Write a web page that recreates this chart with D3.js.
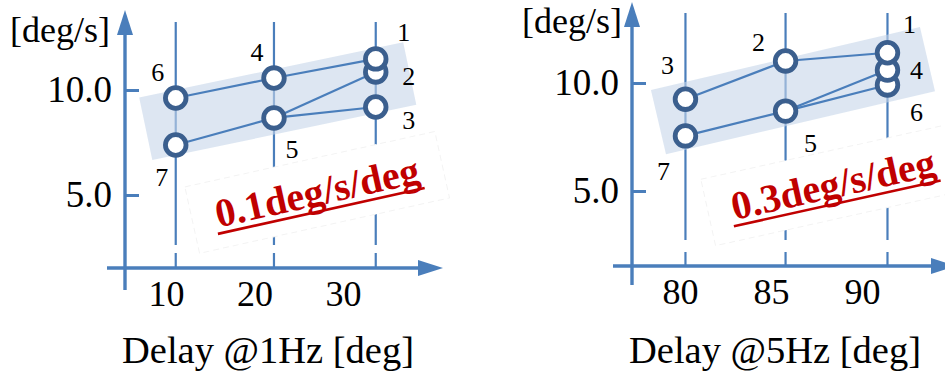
<!DOCTYPE html>
<meta charset="utf-8">
<html lang="en">
<head>
<script src="https://d3js.org/d3.v7.min.js"></script>
<style>
  body { margin: 0; background: #fff; }
  svg { display: block; }
  svg text { font-family: "Liberation Serif", "Times New Roman", serif; }
</style>
</head>
<body>
<svg></svg>
<script>
// point ids 1..7 in each panel
const ids = [1, 2, 3, 4, 5, 6, 7];

// left panel: delay at 1Hz vs rate
const delay1Hz = [33.7, 33.7, 33.7, 22.2, 22.2, 11.1, 11.1];
const rate1Hz = [11.48, 10.86, 9.19, 10.57, 8.67, 9.62, 7.38];
const links1Hz = [[6, 4, 1], [7, 5, 3], [5, 2]];
const xTicks1Hz = [10, 20, 30];
const slope1Hz = "0.1deg/s/deg";

// right panel: delay at 5Hz vs rate
const delay5Hz = [91.4, 85.8, 80.3, 91.4, 85.8, 91.4, 80.3];
const rate5Hz = [11.40, 11.02, 9.25, 10.60, 8.70, 9.91, 7.55];
const links5Hz = [[3, 2, 1], [7, 5, 6], [5, 4]];
const xTicks5Hz = [80, 85, 90];
const slope5Hz = "0.3deg/s/deg";

const yTicks = [5, 10];
const yUnit = "[deg/s]";

let width = 945, height = 376;
let svg = d3.select("svg").attr("width", width).attr("height", height);
const serif = "Liberation Serif";

const axisBlue = "#4a7ebb", ringBlue = "#3b5f8e", red = "#c00000";

// layout for each panel (pixels)
const panels = [
  {
    delay: delay1Hz, rate: rate1Hz, links: links1Hz, xTicks: xTicks1Hz, note: slope1Hz,
    title: "Delay @1Hz [deg]",
    xDomain: [10, 30], xRange: [166, 343], yRange: [195, 90],
    axisX: 125, axisY: 268, yTop: 10, yBottom: 290, xLeft: 107, xRight: 443,
    gridTop: 22, gridBottom: 245, tickTop: 253,
    unitPos: [110, 42], titleX: 268,
    labelOff: [[28, -26], [33, 5], [33, 13], [-17, -26], [18, 32], [-18, -25], [-14, 32]],
    band: { padL: 30, padR: 34, thick: 64, shift: 2 },
    noteAt: [27.4, 4.52]
  },
  {
    delay: delay5Hz, rate: rate5Hz, links: links5Hz, xTicks: xTicks5Hz, note: slope5Hz,
    title: "Delay @5Hz [deg]",
    xDomain: [80, 90], xRange: [680, 862], yRange: [191, 83],
    axisX: 632, axisY: 266, yTop: 2, yBottom: 285, xLeft: 613, xRight: 956,
    gridTop: 13, gridBottom: 240, tickTop: 252,
    unitPos: [622, 33], titleX: 775,
    labelOff: [[22, -28], [-27, -18], [-18, -34], [29, 0], [25, 32], [29, 28], [-22, 36]],
    band: { padL: 27, padR: 40, thick: 66, shift: 1 },
    noteAt: [88.57, 4.70]
  }
];

panels.forEach(p => {
  let x = d3.scaleLinear().domain(p.xDomain).range(p.xRange);
  let y = d3.scaleLinear().domain([5, 10]).range(p.yRange);
  let g = svg.append("g").attr("font-family", serif);
  let pts = ids.map((id, i) => ({ id: id, px: x(p.delay[i]), py: y(p.rate[i]), off: p.labelOff[i] }));
  let cols = Array.from(new Set(p.delay));

  // vertical grid lines at the measured delays
  g.selectAll("line.grid").data(cols).enter().append("line")
    .attr("x1", d => x(d)).attr("x2", d => x(d))
    .attr("y1", p.gridTop).attr("y2", p.gridBottom)
    .attr("stroke", axisBlue).attr("stroke-width", 2.2);
  g.selectAll("line.gtick").data(cols).enter().append("line")
    .attr("x1", d => x(d)).attr("x2", d => x(d))
    .attr("y1", p.tickTop).attr("y2", p.axisY)
    .attr("stroke", axisBlue).attr("stroke-width", 2.2);

  // white box with the slope note
  let nx = x(p.noteAt[0]), ny = y(p.noteAt[1]);
  let note = g.append("g").attr("transform", "translate(" + nx + "," + ny + ") rotate(-12.5)");
  note.append("rect")
    .attr("x", -128).attr("y", -47).attr("width", 256).attr("height", 68)
    .attr("fill", "#fff").attr("stroke", "#f3f3f3").attr("stroke-width", 1)
    .attr("stroke-dasharray", "6,4");
  let nt = note.append("text")
    .attr("text-anchor", "middle").attr("font-family", serif)
    .attr("font-size", 40).attr("font-weight", "bold")
    .attr("fill", red).text(p.note);
  let len = nt.node().getComputedTextLength();
  note.append("line")
    .attr("x1", -len / 2 - 2).attr("x2", len / 2 + 2)
    .attr("y1", 6).attr("y2", 6)
    .attr("stroke", red).attr("stroke-width", 2.6);

  // band: rotated rectangle along the least-squares line of the points
  let mx = d3.mean(pts, d => d.px), my = d3.mean(pts, d => d.py);
  let sxy = d3.sum(pts, d => (d.px - mx) * (d.py - my));
  let sxx = d3.sum(pts, d => (d.px - mx) * (d.px - mx));
  let k = sxy / sxx;
  let x0 = d3.min(pts, d => d.px) - p.band.padL, x1 = d3.max(pts, d => d.px) + p.band.padR;
  let a = [x0, my + k * (x0 - mx) + p.band.shift], b = [x1, my + k * (x1 - mx) + p.band.shift];
  let ang = Math.atan2(b[1] - a[1], b[0] - a[0]);
  let h = p.band.thick / 2, nxp = -Math.sin(ang) * h, nyp = Math.cos(ang) * h;
  let corners = [[a[0] - nxp, a[1] - nyp], [b[0] - nxp, b[1] - nyp], [b[0] + nxp, b[1] + nyp], [a[0] + nxp, a[1] + nyp]];
  g.append("polygon")
    .attr("points", corners.map(c => c.join(",")).join(" "))
    .attr("fill", "#c6d6ea").attr("fill-opacity", 0.6);

  // axes
  g.append("line")
    .attr("x1", p.axisX).attr("x2", p.axisX)
    .attr("y1", p.yBottom).attr("y2", p.yTop + 20)
    .attr("stroke", axisBlue).attr("stroke-width", 3.4);
  g.append("polygon")
    .attr("points", [[p.axisX, p.yTop], [p.axisX - 8, p.yTop + 25], [p.axisX + 8, p.yTop + 25]].join(" "))
    .attr("fill", axisBlue);
  g.append("line")
    .attr("x1", p.xLeft).attr("x2", p.xRight - 20)
    .attr("y1", p.axisY).attr("y2", p.axisY)
    .attr("stroke", axisBlue).attr("stroke-width", 3.4);
  g.append("polygon")
    .attr("points", [[p.xRight, p.axisY], [p.xRight - 25, p.axisY - 8], [p.xRight - 25, p.axisY + 8]].join(" "))
    .attr("fill", axisBlue);

  let yAxis = g.append("g")
    .attr("transform", "translate(" + p.axisX + ",0)")
    .call(d3.axisLeft(y).tickValues(yTicks).tickFormat(d3.format(".1f"))
      .tickSizeInner(-14).tickSizeOuter(0).tickPadding(13));
  yAxis.attr("font-family", serif);
  yAxis.select(".domain").remove();
  yAxis.selectAll("line").attr("stroke", axisBlue).attr("stroke-width", 3);
  yAxis.selectAll("text").attr("font-size", 37).attr("fill", "#000").attr("dy", "0.3em");

  let xAxis = g.append("g")
    .attr("transform", "translate(0," + p.axisY + ")")
    .call(d3.axisBottom(x).tickValues(p.xTicks).tickSize(0).tickPadding(12));
  xAxis.attr("font-family", serif);
  xAxis.select(".domain").remove();
  xAxis.selectAll("text").attr("font-size", 36).attr("fill", "#000");

  g.append("text").attr("x", p.unitPos[0]).attr("y", p.unitPos[1])
    .attr("text-anchor", "end").attr("font-size", 36).text(yUnit);
  g.append("text").attr("x", p.titleX).attr("y", 363)
    .attr("text-anchor", "middle").attr("font-size", 38.5).text(p.title);

  // connecting lines
  let byId = new Map(pts.map(d => [d.id, d]));
  let line = d3.line().x(d => d.px).y(d => d.py);
  g.selectAll("path.link").data(p.links).enter().append("path")
    .attr("d", d => line(d.map(id => byId.get(id))))
    .attr("fill", "none").attr("stroke", axisBlue).attr("stroke-width", 2.2);

  // points, drawn so lower ids sit on top
  g.selectAll("circle.pt").data(pts.slice().reverse()).enter().append("circle")
    .attr("cx", d => d.px).attr("cy", d => d.py).attr("r", 10.3)
    .attr("fill", "#fff").attr("stroke", ringBlue).attr("stroke-width", 4.8);

  g.selectAll("text.lab").data(pts).enter().append("text")
    .attr("x", d => d.px + d.off[0]).attr("y", d => d.py + d.off[1])
    .attr("text-anchor", "middle").attr("dominant-baseline", "central")
    .attr("font-size", 26).text(d => d.id);
});
</script>
</body>
</html>
